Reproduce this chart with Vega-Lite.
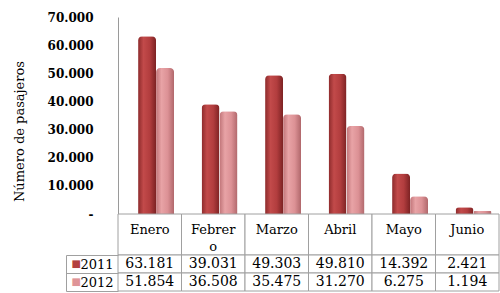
{
  "$schema": "https://vega.github.io/schema/vega-lite/v6.json",
  "padding": {"left": 13, "top": 11, "right": 2, "bottom": 3},
  "bounds": "flush",
  "spacing": 0,
  "config": {
    "view": {"stroke": null},
    "font": "DejaVu Serif",
    "locale": {"number": {"decimal": ",", "thousands": ".", "grouping": [3], "currency": ["", " €"]}}
  },
  "datasets": {
    "pax": [
      {"month": "Enero", "year": "2011", "value": 63181},
      {"month": "Febrero", "year": "2011", "value": 39031},
      {"month": "Marzo", "year": "2011", "value": 49303},
      {"month": "Abril", "year": "2011", "value": 49810},
      {"month": "Mayo", "year": "2011", "value": 14392},
      {"month": "Junio", "year": "2011", "value": 2421},
      {"month": "Enero", "year": "2012", "value": 51854},
      {"month": "Febrero", "year": "2012", "value": 36508},
      {"month": "Marzo", "year": "2012", "value": 35475},
      {"month": "Abril", "year": "2012", "value": 31270},
      {"month": "Mayo", "year": "2012", "value": 6275},
      {"month": "Junio", "year": "2012", "value": 1194}
    ]
  },
  "vconcat": [
    {
      "width": 381,
      "height": 197,
      "data": {"name": "pax"},
      "encoding": {
        "x": {"field": "month", "type": "nominal", "sort": ["Enero", "Febrero", "Marzo", "Abril", "Mayo", "Junio"], "scale": {"paddingInner": 0, "paddingOuter": 0}, "axis": null},
        "xOffset": {"field": "year", "type": "nominal", "scale": {"domain": ["2011", "2012"], "paddingInner": 0, "paddingOuter": 0.764, "align": 0.73}},
        "y": {
          "field": "value", "type": "quantitative",
          "scale": {"domain": [0, 70000]},
          "axis": {
            "title": "Número de pasajeros", "titleFontSize": 13, "titleFontWeight": "normal", "titleColor": "#000", "titlePadding": 21,
            "titleY": 114,
            "values": [0, 10000, 20000, 30000, 40000, 50000, 60000, 70000],
            "format": ",d", "labelExpr": "datum.value == 0 ? '-' : datum.label",
            "labelFontSize": 12, "labelFontWeight": "bold", "labelColor": "#000", "labelPadding": 25,
            "ticks": false, "grid": false, "domainColor": "#9a9a9a"
          }
        }
      },
      "layer": [
        {
          "transform": [{"filter": "datum.year == '2011'"}],
          "mark": {"type": "bar", "cornerRadiusTopLeft": 4, "cornerRadiusTopRight": 4,
            "color": {"gradient": "linear", "x1": 0, "y1": 0, "x2": 1, "y2": 0,
              "stops": [{"offset": 0, "color": "#8c2a2b"}, {"offset": 0.3, "color": "#c24a4a"}, {"offset": 0.65, "color": "#b23d3e"}, {"offset": 1, "color": "#7c2223"}]}}
        },
        {
          "transform": [{"filter": "datum.year == '2012'"}],
          "mark": {"type": "bar", "cornerRadiusTopLeft": 4, "cornerRadiusTopRight": 4,
            "color": {"gradient": "linear", "x1": 0, "y1": 0, "x2": 1, "y2": 0,
              "stops": [{"offset": 0, "color": "#c07478"}, {"offset": 0.3, "color": "#e8a3a6"}, {"offset": 0.65, "color": "#dc9195"}, {"offset": 1, "color": "#b0676b"}]}}
        }
      ]
    },
    {
      "width": 381,
      "height": 41,
      "data": {"name": "pax"},
      "transform": [
        {"filter": "datum.year == '2011'"},
        {"calculate": "datum.month == 'Febrero' ? ['Febrer', 'o'] : datum.month", "as": "label"}
      ],
      "encoding": {
        "x": {"field": "month", "type": "nominal", "sort": ["Enero", "Febrero", "Marzo", "Abril", "Mayo", "Junio"], "scale": {"paddingInner": 0, "paddingOuter": 0}, "axis": null}
      },
      "layer": [
        {"mark": {"type": "rect", "fill": "white", "stroke": "#a0a0a0", "strokeWidth": 1}},
        {"mark": {"type": "text", "baseline": "top", "dy": -11, "fontSize": 13, "lineHeight": 17, "color": "#000"}, "encoding": {"text": {"field": "label"}}}
      ]
    },
    {
      "width": 381,
      "height": 36,
      "data": {"name": "pax"},
      "encoding": {
        "x": {"field": "month", "type": "nominal", "sort": ["Enero", "Febrero", "Marzo", "Abril", "Mayo", "Junio"], "scale": {"paddingInner": 0, "paddingOuter": 0}, "axis": null}
      },
      "layer": [
        {
          "mark": {"type": "rect", "fill": "white", "stroke": "#a0a0a0", "strokeWidth": 1},
          "encoding": {
            "y": {"field": "year", "type": "nominal", "scale": {"domain": ["2011", "2012"], "paddingInner": 0, "paddingOuter": 0},
              "axis": {"title": null, "orient": "left", "domain": false, "ticks": true, "tickBand": "extent", "tickSize": 52, "tickColor": "#a0a0a0",
                "labelAlign": "left", "labelPadding": -14, "labelFontSize": 13, "labelColor": "#000"}}
          }
        },
        {
          "mark": {"type": "text", "fontSize": 14, "color": "#000"},
          "encoding": {
            "y": {"field": "year", "type": "nominal",
              "axis": {"title": null, "orient": "left", "offset": 52, "domain": true, "domainColor": "#a0a0a0", "ticks": false,
                "labelExpr": "'■'", "labelAlign": "left", "labelPadding": -5, "labelFontSize": 10, "labelFont": "DejaVu Sans",
                "labelColor": {"condition": {"test": "datum.value == '2011'", "value": "#b3403f"}, "value": "#df9497"}}},
            "text": {"field": "value", "format": ",d"}
          }
        }
      ],
      "resolve": {"axis": {"y": "independent"}}
    }
  ]
}
